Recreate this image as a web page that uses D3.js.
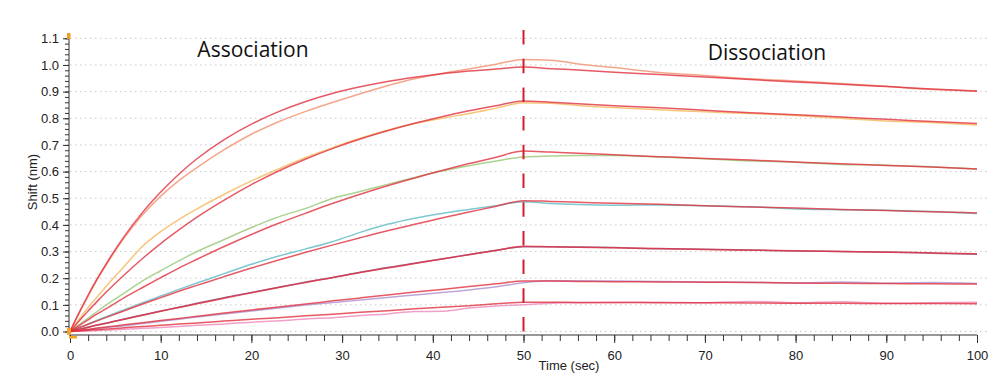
<!DOCTYPE html>
<html>
<head>
<meta charset="utf-8">
<script src="https://cdn.jsdelivr.net/npm/d3@7"></script>
<style>
html,body{margin:0;padding:0;background:#fff;}
svg{display:block;}
.ax text{font-family:"Liberation Sans",Arial,sans-serif;font-size:13px;fill:#222;}
</style>
</head>
<body>
<svg id="chart" width="990" height="379"></svg>
<script>
// ---- data ----
const time = [0,1,2,3,4,6,8,10,12,14,17,20,23,26,29,32,35,38,41,44,47,50,53,56,60,65,70,75,80,85,90,95,100];

const fit1 = [0,0.071,0.137,0.198,0.255,0.358,0.447,0.523,0.590,0.648,0.720,0.778,0.825,0.863,0.894,0.918,0.938,0.954,0.967,0.977,0.985,0.992,0.986,0.981,0.973,0.964,0.955,0.945,0.936,0.928,0.919,0.910,0.901];
const raw1 = [0,0.068,0.132,0.195,0.250,0.352,0.438,0.508,0.566,0.615,0.682,0.740,0.787,0.826,0.860,0.892,0.922,0.948,0.968,0.985,1.003,1.020,1.018,1.004,0.990,0.972,0.960,0.948,0.940,0.930,0.920,0.908,0.903];

const fit2 = [0,0.039,0.077,0.113,0.148,0.213,0.274,0.330,0.381,0.429,0.493,0.551,0.602,0.647,0.687,0.722,0.753,0.781,0.806,0.828,0.847,0.865,0.860,0.854,0.847,0.839,0.830,0.821,0.813,0.805,0.796,0.788,0.780];
const raw2 = [0,0.045,0.090,0.130,0.170,0.245,0.320,0.375,0.420,0.460,0.515,0.565,0.610,0.653,0.690,0.725,0.755,0.780,0.800,0.818,0.838,0.858,0.856,0.848,0.840,0.832,0.824,0.818,0.810,0.800,0.790,0.784,0.775];

const fit3 = [0,0.022,0.044,0.066,0.086,0.127,0.165,0.202,0.238,0.271,0.319,0.364,0.406,0.444,0.481,0.515,0.547,0.576,0.604,0.630,0.654,0.677,0.673,0.669,0.663,0.656,0.649,0.643,0.636,0.629,0.623,0.617,0.610];
const raw3 = [0,0.025,0.050,0.075,0.100,0.145,0.190,0.228,0.265,0.300,0.345,0.390,0.430,0.462,0.500,0.525,0.552,0.578,0.602,0.622,0.640,0.655,0.658,0.660,0.660,0.655,0.648,0.640,0.635,0.627,0.624,0.618,0.610];

const fit4 = [0,0.014,0.027,0.040,0.053,0.078,0.103,0.127,0.151,0.173,0.206,0.238,0.268,0.297,0.325,0.352,0.378,0.402,0.426,0.448,0.470,0.491,0.488,0.485,0.481,0.477,0.472,0.467,0.463,0.458,0.454,0.449,0.445];
const raw4 = [0,0.014,0.028,0.042,0.056,0.082,0.108,0.133,0.158,0.182,0.217,0.252,0.283,0.310,0.338,0.372,0.402,0.425,0.443,0.458,0.472,0.487,0.480,0.476,0.474,0.475,0.472,0.468,0.460,0.457,0.455,0.450,0.443];

const fit5 = [0,0.008,0.016,0.024,0.031,0.046,0.061,0.076,0.090,0.104,0.125,0.145,0.165,0.184,0.203,0.221,0.238,0.255,0.272,0.288,0.304,0.320,0.318,0.316,0.314,0.311,0.308,0.305,0.303,0.300,0.297,0.295,0.292];
const raw5 = [0,0.008,0.016,0.024,0.031,0.047,0.062,0.077,0.091,0.106,0.127,0.146,0.166,0.186,0.203,0.222,0.240,0.256,0.272,0.289,0.305,0.318,0.318,0.317,0.315,0.310,0.309,0.306,0.302,0.300,0.298,0.294,0.290];

const fit6 = [0,0.004,0.008,0.013,0.017,0.025,0.033,0.041,0.049,0.057,0.069,0.081,0.092,0.103,0.115,0.126,0.137,0.148,0.158,0.169,0.179,0.189,0.189,0.188,0.187,0.186,0.185,0.184,0.182,0.181,0.180,0.179,0.178];
const raw6 = [0,0.003,0.007,0.011,0.015,0.022,0.030,0.038,0.046,0.054,0.066,0.077,0.088,0.099,0.109,0.118,0.128,0.137,0.146,0.156,0.168,0.183,0.190,0.190,0.189,0.188,0.186,0.185,0.182,0.186,0.181,0.184,0.180];

const fit7 = [0,0.002,0.005,0.007,0.009,0.014,0.019,0.023,0.028,0.032,0.039,0.046,0.052,0.059,0.065,0.072,0.078,0.085,0.091,0.097,0.104,0.110,0.110,0.109,0.109,0.108,0.108,0.107,0.106,0.106,0.105,0.105,0.104];
const raw7 = [0,0.001,0.002,0.004,0.005,0.008,0.012,0.015,0.019,0.023,0.028,0.035,0.040,0.047,0.052,0.060,0.066,0.075,0.076,0.088,0.096,0.100,0.106,0.108,0.109,0.110,0.108,0.113,0.108,0.112,0.106,0.108,0.110];

const fits = [fit1, fit2, fit3, fit4, fit5, fit6, fit7];
const raws = [raw1, raw2, raw3, raw4, raw5, raw6, raw7];
const rawColors = ["#f2a184", "#f5c272", "#a8d08a", "#79c5cd", "#9a6a98", "#b9a2d6", "#f09cc4"];
const fitColor = "#e0303f";

const xMajor = [0,10,20,30,40,50,60,70,80,90,100];
const yMajor = [0.0,0.1,0.2,0.3,0.4,0.5,0.6,0.7,0.8,0.9,1.0,1.1];
const phaseLabels = ["Association", "Dissociation"];
const phaseSplit = 50;

// ---- chart ----
const svg = d3.select("#chart");
const x = d3.scaleLinear().domain([0,100]).range([70,977]);
const y = d3.scaleLinear().domain([0,1.1]).range([331.5,38.3]);
const axisY = 335, axisX = 69;

// grid
svg.append("g").selectAll("line").data(yMajor).join("line")
  .attr("x1", 70).attr("x2", 990)
  .attr("y1", d => y(d)).attr("y2", d => y(d))
  .attr("stroke", "#c9c9c9").attr("stroke-width", 1)
  .attr("stroke-dasharray", "1.5,3.5");

// series
const line = d3.line().x((d,i) => x(time[i])).y(d => y(d)).curve(d3.curveMonotoneX);
const gs = svg.append("g").attr("fill", "none").attr("stroke-linejoin", "round");
raws.forEach((r, i) => {
  gs.append("path").attr("d", line(r)).attr("stroke", rawColors[i])
    .attr("stroke-width", 1.5).attr("opacity", 0.95);
});
fits.forEach((f, i) => {
  gs.append("path").attr("d", line(f)).attr("stroke", fitColor)
    .attr("stroke-width", 1.5).attr("opacity", 0.8);
});

// dashed phase separator
svg.append("line")
  .attr("x1", x(phaseSplit)).attr("x2", x(phaseSplit))
  .attr("y1", y(0)).attr("y2", 30)
  .attr("stroke", "#cf1f2e").attr("stroke-width", 2)
  .attr("stroke-dasharray", "14.5,14.2");

// y axis
const yMinor = d3.range(0, 1.1001, 0.02);
const gyMinor = svg.append("g").attr("class","ax").attr("transform", `translate(${axisX},0)`)
  .call(d3.axisLeft(y).tickValues(yMinor).tickSize(4).tickFormat(""));
gyMinor.select(".domain").remove();
gyMinor.selectAll("line").attr("stroke", "#333");
const gy = svg.append("g").attr("class","ax").attr("transform", `translate(${axisX},0)`)
  .call(d3.axisLeft(y).tickValues(yMajor).tickSize(6).tickPadding(4).tickFormat(d3.format(".1f")));
gy.select(".domain").remove();
gy.selectAll("line").attr("stroke", "#333");
gy.selectAll("text").attr("font-size", 13.5);

// x axis
const xMinor = d3.range(0, 101, 2);
const gxMinor = svg.append("g").attr("class","ax").attr("transform", `translate(0,${axisY})`)
  .call(d3.axisBottom(x).tickValues(xMinor).tickSize(6).tickFormat(""));
gxMinor.select(".domain").remove();
gxMinor.selectAll("line").attr("stroke", "#333");
const gx = svg.append("g").attr("class","ax").attr("transform", `translate(0,${axisY})`)
  .call(d3.axisBottom(x).tickValues(xMajor).tickSize(8).tickPadding(8).tickFormat(d3.format("d")));
gx.select(".domain").remove();
gx.selectAll("line").attr("stroke", "#333");
gx.selectAll("text").attr("font-size", 13.5);

// axis lines
svg.append("line").attr("x1", axisX).attr("x2", axisX).attr("y1", 36).attr("y2", axisY)
  .attr("stroke", "#333").attr("stroke-width", 1);
svg.append("line").attr("x1", axisX).attr("x2", 977).attr("y1", axisY).attr("y2", axisY)
  .attr("stroke", "#333").attr("stroke-width", 1);

// axis titles
svg.append("text").attr("x", 569).attr("y", 370).attr("text-anchor", "middle")
  .attr("font-family", "Liberation Sans, Arial, sans-serif").attr("font-size", 13).attr("fill", "#222")
  .text("Time (sec)");
svg.append("text").attr("transform", "translate(37,182) rotate(-90)").attr("text-anchor", "middle")
  .attr("font-family", "Liberation Sans, Arial, sans-serif").attr("font-size", 13).attr("fill", "#222")
  .text("Shift (nm)");

// phase labels
svg.append("text").attr("x", 253).attr("y", 57).attr("text-anchor", "middle")
  .attr("font-family", "Open Sans, sans-serif").attr("font-size", 21).attr("fill", "#111")
  .text(phaseLabels[0]);
svg.append("text").attr("x", 767).attr("y", 60).attr("text-anchor", "middle")
  .attr("font-family", "Open Sans, sans-serif").attr("font-size", 21).attr("fill", "#111")
  .text(phaseLabels[1]);

// cursor markers
svg.append("rect").attr("x", 67).attr("y", 33).attr("width", 3.5).attr("height", 6).attr("fill", "#f0a020");
svg.append("rect").attr("x", 67).attr("y", 328).attr("width", 4).attr("height", 7).attr("fill", "#f5a623");
svg.append("rect").attr("x", 69).attr("y", 336).attr("width", 8).attr("height", 2.5).attr("fill", "#f5a623");
</script>
</body>
</html>
